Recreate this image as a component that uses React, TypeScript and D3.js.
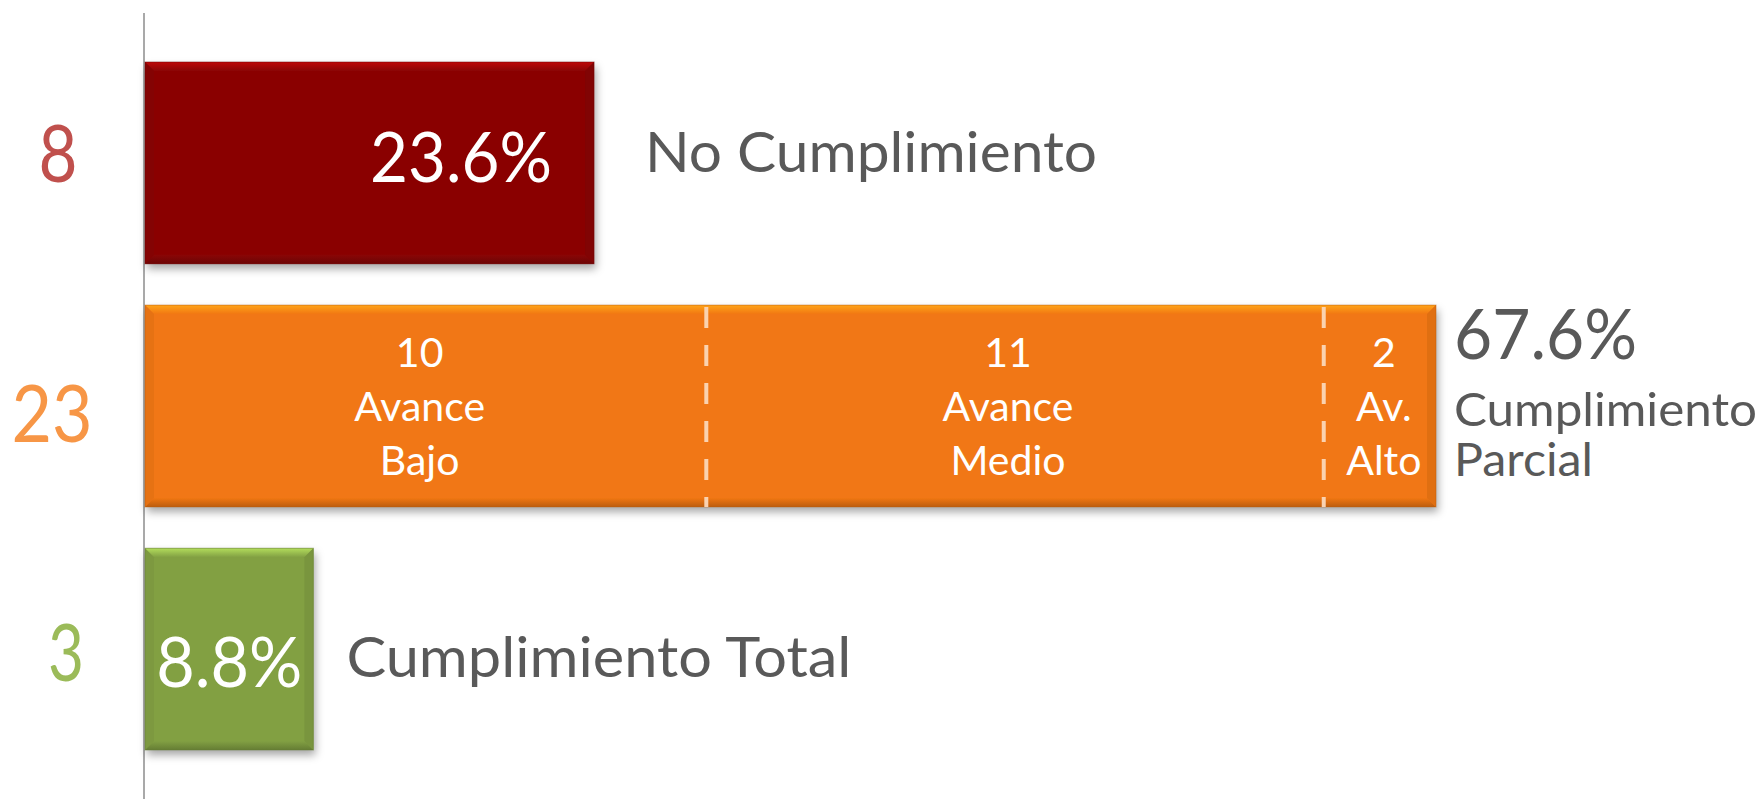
import React, { useEffect } from "react";
import * as d3 from "d3";

// ---------- data ----------
const categories = ["No Cumplimiento", "Cumplimiento Parcial", "Cumplimiento Total"];
const counts = [8, 23, 3];
const percentLabels = ["23.6%", "67.6%", "8.8%"];
const partialSegments = [10, 11, 2];
const segmentNames = [
  ["Avance", "Bajo"],
  ["Avance", "Medio"],
  ["Av.", "Alto"],
];

// ---------- style / layout ----------
const W = 1761;
const H = 799;
const FONT = "Lato, 'Open Sans', 'DejaVu Sans', sans-serif";
const barColors = ["#8A0606", "#F17712", "#82A043"];
const countColors = ["#C0504D", "#F79646", "#9BBB59"];
const textGray = "#595959";

// count labels at the left: center x, baseline offset from bar top, target width
const countLayout = [
  { cx: 58, dy: 120, w: 39 },
  { cx: 52, dy: 137, w: 81 },
  { cx: 66, dy: 133, w: 36 },
];

const x = d3.scaleLinear().domain([0, 23]).range([145, 1436]);
const y = d3
  .scaleBand<string>()
  .domain(categories)
  .range([62, 750])
  .paddingInner(0.17)
  .paddingOuter(0);

function Bar({ x0, x1, y0, y1, color, id }: any) {
  const b = 9;
  const lighter = d3.color(color)!.brighter(0.9).formatHex();
  const darker = d3.color(color)!.darker(0.7).formatHex();
  const side = d3.color(color)!.darker(0.25).formatHex();
  return (
    <g>
      <defs>
        <linearGradient id={`top-${id}`} x1="0" y1="0" x2="0" y2="1">
          <stop offset="0" stopColor={lighter} />
          <stop offset="1" stopColor={color} />
        </linearGradient>
        <linearGradient id={`bot-${id}`} x1="0" y1="0" x2="0" y2="1">
          <stop offset="0" stopColor={color} />
          <stop offset="1" stopColor={darker} />
        </linearGradient>
      </defs>
      <rect x={x0} y={y0} width={x1 - x0} height={y1 - y0} fill={color} filter="url(#shadow)" />
      <polygon
        points={`${x0},${y0} ${x1},${y0} ${x1 - b},${y0 + b} ${x0 + b},${y0 + b}`}
        fill={`url(#top-${id})`}
      />
      <polygon
        points={`${x0},${y1} ${x1},${y1} ${x1 - b},${y1 - b} ${x0 + b},${y1 - b}`}
        fill={`url(#bot-${id})`}
      />
      <polygon
        points={`${x1},${y0} ${x1},${y1} ${x1 - b},${y1 - b} ${x1 - b},${y0 + b}`}
        fill={side}
        opacity={0.8}
      />
      <polygon
        points={`${x0},${y0} ${x0},${y1} ${x0 + b},${y1 - b} ${x0 + b},${y0 + b}`}
        fill={side}
        opacity={0.5}
      />
      <rect
        x={x0}
        y={y0}
        width={x1 - x0}
        height={y1 - y0}
        fill="none"
        stroke={darker}
        strokeOpacity={0.5}
        strokeWidth={1}
      />
    </g>
  );
}

function Txt({ x, y, size, color, anchor = "start", w, children }: any) {
  return (
    <text
      x={x}
      y={y}
      fontSize={size}
      fill={color}
      textAnchor={anchor}
      fontFamily={FONT}
      {...(w ? { textLength: w, lengthAdjust: "spacingAndGlyphs" } : {})}
    >
      {children}
    </text>
  );
}

export default function App() {
  useEffect(() => {
    document.body.style.margin = "0";
  }, []);

  const bw = y.bandwidth();
  const top = (i: number) => y(categories[i])!;

  // cumulative segment boundaries of the partial bar
  const cum = d3.cumsum(partialSegments);
  const segStarts = [0, ...Array.from(cum).slice(0, -1)];
  const segCenterOffsets = [-6, -7, 4];

  return (
    <svg width={W} height={H} style={{ display: "block", background: "#fff" }}>
      <defs>
        <filter id="shadow" x="-5%" y="-10%" width="115%" height="130%">
          <feDropShadow dx="2" dy="5" stdDeviation="4" floodColor="#000" floodOpacity="0.35" />
        </filter>
      </defs>

      {/* axis line */}
      <line x1={144} x2={144} y1={13} y2={H} stroke="#8C8C8C" strokeWidth={1.5} />

      {/* bars */}
      {categories.map((c, i) => (
        <Bar
          key={c}
          id={i}
          x0={x(0)}
          x1={x(counts[i])}
          y0={top(i)}
          y1={top(i) + bw}
          color={barColors[i]}
        />
      ))}

      {/* dashed dividers in the partial bar */}
      {Array.from(cum)
        .slice(0, -1)
        .map((v, k) => (
          <line
            key={k}
            x1={x(v)}
            x2={x(v)}
            y1={top(1) + 2}
            y2={top(1) + bw}
            stroke="#FAD2B0"
            strokeWidth={4}
            strokeDasharray="21 17"
          />
        ))}

      {/* count labels at the left */}
      {counts.map((v, i) => (
        <Txt
          key={i}
          x={countLayout[i].cx}
          y={top(i) + countLayout[i].dy}
          size={79}
          color={countColors[i]}
          anchor="middle"
          w={countLayout[i].w}
        >
          {String(v)}
        </Txt>
      ))}

      {/* No Cumplimiento */}
      <Txt x={x(counts[0]) - 42} y={top(0) + 120} size={69} color="#fff" anchor="end" w={182}>
        {percentLabels[0]}
      </Txt>
      <Txt x={x(counts[0]) + 51} y={top(0) + 110} size={57} color={textGray} w={452}>
        {categories[0]}
      </Txt>

      {/* Cumplimiento Total */}
      <Txt
        x={(x(0) + x(counts[2])) / 2}
        y={top(2) + 139}
        size={69}
        color="#fff"
        anchor="middle"
        w={146}
      >
        {percentLabels[2]}
      </Txt>
      <Txt x={x(counts[2]) + 33} y={top(2) + 129} size={57} color={textGray} w={505}>
        {categories[2]}
      </Txt>

      {/* Cumplimiento Parcial */}
      <Txt x={x(counts[1]) + 18} y={top(1) + 54} size={69} color={textGray} w={183}>
        {percentLabels[1]}
      </Txt>
      <Txt x={x(counts[1]) + 18} y={top(1) + 121} size={47} color={textGray} w={303}>
        Cumplimiento
      </Txt>
      <Txt x={x(counts[1]) + 18} y={top(1) + 171} size={47} color={textGray} w={139}>
        Parcial
      </Txt>

      {/* segment labels */}
      {partialSegments.map((v, k) => {
        const cx = (x(segStarts[k]) + x(segStarts[k] + v)) / 2 + segCenterOffsets[k];
        const t = top(1);
        return (
          <g key={k}>
            <Txt x={cx} y={t + 62} size={41} color="#fff" anchor="middle">
              {String(v)}
            </Txt>
            <Txt x={cx} y={t + 116} size={41} color="#fff" anchor="middle">
              {segmentNames[k][0]}
            </Txt>
            <Txt x={cx} y={t + 170} size={41} color="#fff" anchor="middle">
              {segmentNames[k][1]}
            </Txt>
          </g>
        );
      })}
    </svg>
  );
}
